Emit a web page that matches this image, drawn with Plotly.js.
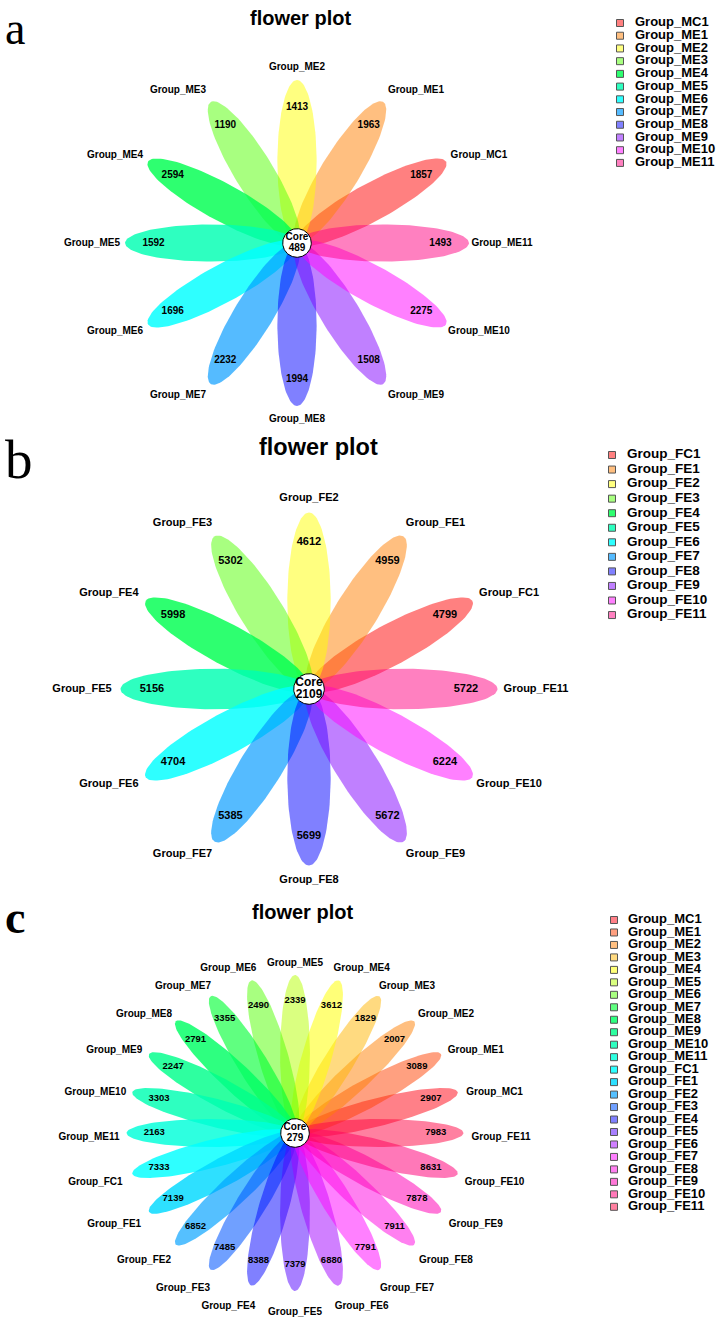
<!DOCTYPE html>
<html><head><meta charset="utf-8">
<script src="https://cdn.plot.ly/plotly-3.0.1.min.js"></script>
<style>html,body{margin:0;padding:0;background:#fff}#chart{width:722px;height:1321px}</style>
</head><body><div id="chart"></div>
<script>
// ---------------- data ----------------
const titleText = 'flower plot';

const groupsA = ['Group_MC1','Group_ME1','Group_ME2','Group_ME3','Group_ME4','Group_ME5','Group_ME6','Group_ME7','Group_ME8','Group_ME9','Group_ME10','Group_ME11'];
const valuesA = [1857,1963,1413,1190,2594,1592,1696,2232,1994,1508,2275,1493];
const coreA = 489;

const groupsB = ['Group_FC1','Group_FE1','Group_FE2','Group_FE3','Group_FE4','Group_FE5','Group_FE6','Group_FE7','Group_FE8','Group_FE9','Group_FE10','Group_FE11'];
const valuesB = [4799,4959,4612,5302,5998,5156,4704,5385,5699,5672,6224,5722];
const coreB = 2109;

const groupsC = ['Group_MC1','Group_ME1','Group_ME2','Group_ME3','Group_ME4','Group_ME5','Group_ME6','Group_ME7','Group_ME8','Group_ME9','Group_ME10','Group_ME11',
                 'Group_FC1','Group_FE1','Group_FE2','Group_FE3','Group_FE4','Group_FE5','Group_FE6','Group_FE7','Group_FE8','Group_FE9','Group_FE10','Group_FE11'];
const valuesC = [2907,3089,2007,1829,3612,2339,2490,3355,2791,2247,3303,2163,
                 7333,7139,6852,7485,8388,7379,6880,7791,7911,7878,8631,7983];
const coreC = 279;

// ---------------- styles ----------------
const colors12 = ['#FF8080','#FFBF80','#FFFF80','#A8FF80','#00FF70','#00FFC0','#00FFFF','#55BBFF','#8080FF','#C080FF','#FF80FF','#FF80C0'];
const colors24 = ['#FF8088','#FFA080','#FFBF80','#FFDA80','#FFFF78','#DAFF80','#A8FF80','#60FF80','#00FF80','#00FFA0','#00FFC0','#00FFE0',
                  '#00FFFF','#00E0FF','#55C0FF','#70A0FF','#8080FF','#A880FF','#D080FF','#FF80FF','#FF80F0','#FF78D8','#FF78B8','#FF80A0'];

const FONT = 'Arial, "Liberation Sans", sans-serif';
const SERIF = '"Times New Roman", "Liberation Serif", serif';

function toRgba(hex){
  const v=[1,3,5].map(k=>parseInt(hex.substr(k,2),16));
  const mn=Math.min.apply(null,v);
  const a=Math.min(0.82,Math.max(0.5,1-mn/255));
  const c=v.map(x=>Math.max(0,Math.min(255,Math.round((x-(1-a)*255)/a))));
  return 'rgba('+c[0]+','+c[1]+','+c[2]+','+a.toFixed(3)+')';
}

const panels = [
  {groups:groupsA, values:valuesA, core:coreA, colors:colors12, letter:'a',
   cx:297, cy:243, sx:1.055, pa:81.5, pb:18.6, numR:136, lRx:172, lC:33, lRy:176, lDy:0,
   coreR:14.3, fLab:10, fNum:10, fCore:10, coreGap:5.5,
   titleX:300, titleY:18, titleSize:20, letterY:0.5, letterAnchor:'top', letterSize:46, letterBold:false,
   legX:620, legTextX:635, legY0:23, legDy:12.72, legFont:13},
  {groups:groupsB, values:valuesB, core:coreB, colors:colors12, letter:'b',
   cx:309, cy:689, sx:1.068, pa:88.25, pb:20.3, numR:147, lRx:201, lC:26, lRy:191, lDy:0,
   coreR:15.3, fLab:11, fNum:11, fCore:12, coreGap:6,
   titleX:318.5, titleY:447, titleSize:23.5, letterY:459, letterAnchor:'middle', letterSize:55, letterBold:false,
   legX:612, legTextX:627, legY0:455, legDy:14.55, legFont:13.5},
  {groups:groupsC, values:valuesC, core:coreC, colors:colors24, letter:'c',
   cx:295, cy:1133, sx:1.066, pa:79, pb:14, numR:132, lRx:188, lC:18, lRy:174.5, lDy:-4.5,
   coreR:14.3, fLab:10, fNum:9.5, fCore:10, coreGap:5.5,
   titleX:302.5, titleY:912, titleSize:20, letterY:917, letterAnchor:'middle', letterSize:46, letterBold:true,
   legX:614, legTextX:628, legY0:920, legDy:12.47, legFont:13}
];

const traces = [];
const annotations = [];
const NP = 120;

panels.forEach(p=>{
  const n = p.values.length;
  const step = 360/n;
  const fills = p.colors.map(toRgba);
  const numX=[], numY=[], labX=[], labY=[];
  p.values.forEach((v,i)=>{
    const th = (step*(i+1))*Math.PI/180;
    const c = Math.cos(th), s = Math.sin(th);
    const ex = p.pa*c, ey = p.pa*s;
    const xs=[], ys=[];
    for(let k=0;k<=NP;k++){
      const t = 2*Math.PI*k/NP;
      const X = ex + p.pa*Math.cos(t)*c - p.pb*Math.sin(t)*s;
      const Y = ey + p.pa*Math.cos(t)*s + p.pb*Math.sin(t)*c;
      xs.push(p.cx + p.sx*X); ys.push(p.cy - Y);
    }
    traces.push({type:'scatter', mode:'lines', x:xs, y:ys, fill:'toself',
      fillcolor:fills[i], line:{width:0, color:fills[i]}, hoverinfo:'skip', showlegend:false});
    numX.push(p.cx + p.sx*p.numR*c); numY.push(p.cy - p.numR*s);
    const sg = Math.abs(c)<1e-6 ? 0 : Math.sign(c);
    labX.push(p.cx + p.lRx*c + p.lC*sg); labY.push(p.cy - (p.lRy*s + p.lDy));
  });
  // core circle
  const cxs=[], cys=[];
  for(let k=0;k<=NP;k++){const t=2*Math.PI*k/NP; cxs.push(p.cx+p.coreR*Math.cos(t)); cys.push(p.cy-p.coreR*Math.sin(t));}
  traces.push({type:'scatter', mode:'lines', x:cxs, y:cys, fill:'toself', fillcolor:'#ffffff',
    line:{width:1, color:'#000000'}, hoverinfo:'skip', showlegend:false});
  traces.push({type:'scatter', mode:'text', x:[p.cx,p.cx], y:[p.cy-p.coreGap, p.cy+p.coreGap],
    text:['Core', String(p.core)], textposition:'middle center',
    textfont:{family:FONT, size:p.fCore, color:'#000', weight:700}, hoverinfo:'skip', showlegend:false});
  // numbers
  traces.push({type:'scatter', mode:'text', x:numX, y:numY, text:p.values.map(String), textposition:'middle center',
    textfont:{family:FONT, size:p.fNum, color:'#000', weight:700}, hoverinfo:'skip', showlegend:false});
  // labels
  traces.push({type:'scatter', mode:'text', x:labX, y:labY, text:p.groups, textposition:'middle center',
    textfont:{family:FONT, size:p.fLab, color:'#000', weight:700}, hoverinfo:'skip', showlegend:false});
  // legend
  const ly = p.groups.map((g,i)=>p.legY0 + i*p.legDy);
  traces.push({type:'scatter', mode:'markers', x:p.groups.map(()=>p.legX), y:ly,
    marker:{symbol:'square', size:7, color:fills, line:{width:1, color:'#555555'}}, hoverinfo:'skip', showlegend:false});
  traces.push({type:'scatter', mode:'text', x:p.groups.map(()=>p.legTextX), y:ly, text:p.groups, textposition:'middle right',
    textfont:{family:FONT, size:p.legFont, color:'#000', weight:700}, hoverinfo:'skip', showlegend:false});
  // title and panel letter
  annotations.push({xref:'x', yref:'y', x:p.titleX, y:p.titleY, text:titleText, showarrow:false,
    xanchor:'center', yanchor:'middle', font:{family:FONT, size:p.titleSize, color:'#000', weight:700}});
  annotations.push({xref:'x', yref:'y', x:3, y:p.letterY, text:p.letter, showarrow:false,
    xanchor:'left', yanchor:p.letterAnchor, font:{family:SERIF, size:p.letterSize, color:'#000', weight:p.letterBold?700:400}});
});

const layout = {
  width:722, height:1321, margin:{l:0,r:0,t:0,b:0}, paper_bgcolor:'#fff', plot_bgcolor:'#fff',
  showlegend:false, hovermode:false,
  xaxis:{range:[0,722], visible:false, fixedrange:true, domain:[0,1]},
  yaxis:{range:[1321,0], visible:false, fixedrange:true, domain:[0,1]},
  annotations:annotations
};
Plotly.newPlot('chart', traces, layout, {staticPlot:true, displayModeBar:false});
</script></body></html>
